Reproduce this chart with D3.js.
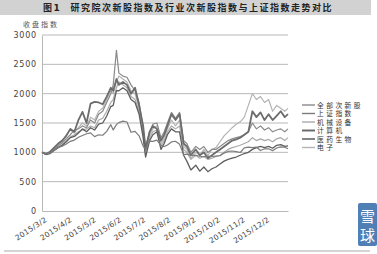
<!DOCTYPE html>
<html>
<head>
<meta charset="utf-8">
<script src="https://cdnjs.cloudflare.com/ajax/libs/d3/7.8.5/d3.min.js"></script>
<style>
  body { margin: 0; background: #fff; }
  text { font-family: "DejaVu Sans", "Noto Sans CJK SC", sans-serif; }
</style>
</head>
<body>
<div id="chart-area"></div>
<script>
const dates = ["2015-03-02","2015-03-07","2015-03-12","2015-03-17","2015-03-22","2015-03-27",
  "2015-04-01","2015-04-06","2015-04-11","2015-04-16","2015-04-21","2015-04-26",
  "2015-05-01","2015-05-06","2015-05-11","2015-05-16","2015-05-21","2015-05-26","2015-05-29",
  "2015-06-02","2015-06-05","2015-06-10","2015-06-15","2015-06-20","2015-06-25","2015-06-30",
  "2015-07-05","2015-07-08","2015-07-13","2015-07-17","2015-07-22","2015-07-27","2015-07-31",
  "2015-08-04","2015-08-09","2015-08-14","2015-08-19","2015-08-24","2015-08-28",
  "2015-09-02","2015-09-08","2015-09-13","2015-09-18","2015-09-23","2015-09-28",
  "2015-10-03","2015-10-08","2015-10-13","2015-10-18","2015-10-23","2015-10-28",
  "2015-11-02","2015-11-07","2015-11-12","2015-11-17","2015-11-22","2015-11-27",
  "2015-12-02","2015-12-07","2015-12-12","2015-12-17","2015-12-22","2015-12-27","2015-12-31"]

const allNew = [1000,970,990,1050,1110,1160, 1230,1300,1380,1400,1450,1420,
  1550,1500,1650,1700,1850,2000,2150, 2740,2350,2300,2280,2150,2050,1850,
  1400,1100,1350,1480,1500,1250,1350, 1500,1680,1580,1680,1200,1150,
  1000,1100,1050,1100,1000,1050, 1050,1100,1150,1200,1230,1250,
  1270,1300,1350,1500,1400,1450, 1380,1420,1350,1380,1400,1350,1400]

const shIndex = [1000,972,986,1034,1084,1106, 1142,1187,1209,1257,1287,1317,
  1331,1268,1299,1291,1358,1472,1382, 1472,1506,1531,1517,1342,1357,1282,
  1105,1051,1190,1186,1207,1117,1098, 1126,1177,1189,1137,962,969,
  949,950,933,928,934,929, 935,942,987,1015,1023,1012,
  997,1076,1089,1080,1088,1030, 1060,1060,1029,1073,1094,1087,1061]

const machinery = [1000,960,985,1040,1090,1130, 1200,1260,1300,1350,1380,1400,
  1450,1420,1550,1580,1700,1850,1900, 2100,2200,2150,2100,1950,1900,1700,
  1300,950,1250,1350,1380,1100,1200, 1350,1450,1400,1450,1050,1000,
  880,950,900,930,880,900, 930,950,1000,1050,1080,1100,
  1120,1150,1180,1250,1200,1230, 1200,1220,1180,1230,1250,1200,1250]

const computer = [1000,975,1010,1080,1150,1200, 1280,1400,1350,1550,1690,1500,
  1830,1860,1850,1820,1950,2100,2050, 2250,2150,2200,2150,2000,2100,1800,
  1450,1050,1350,1450,1400,1200,1300, 1450,1650,1550,1650,1150,1100,
  950,1050,950,1000,900,950, 1000,1050,1100,1150,1200,1220,
  1250,1300,1350,1700,1600,1680, 1550,1650,1550,1620,1700,1600,1650]

const pharma = [1000,965,980,1030,1080,1120, 1180,1250,1270,1330,1400,1350,
  1420,1380,1480,1500,1620,1780,1800, 2050,2050,2100,2050,1900,1850,1650,
  1250,920,1200,1300,1350,1050,1150, 1300,1400,1350,1350,950,850,
  700,780,680,750,670,720, 750,800,850,880,900,920,
  950,980,1000,1050,1080,1100, 1080,1100,1070,1120,1130,1100,1110]

const electronics = [1000,985,1000,1060,1120,1180, 1300,1380,1330,1420,1500,1450,
  1600,1550,1700,1750,1900,2050,2000, 2200,2300,2250,2200,2050,2000,1750,
  1350,1000,1300,1400,1450,1150,1250, 1400,1550,1450,1550,1100,1050,
  900,1000,950,1050,950,1050, 1080,1180,1280,1350,1420,1480,
  1520,1600,1800,2000,1900,1950, 1850,1900,1700,1800,1750,1700,1750]

const seriesNames = ["全部次新股","上证指数","机械设备","计算机","医药生物","电子"]
const seriesValues = [allNew, shIndex, machinery, computer, pharma, electronics]
const yTicks = [0,500,1000,1500,2000,2500,3000]
const xTickLabels = ["2015/3/2","2015/4/2","2015/5/2","2015/6/2","2015/7/2","2015/8/2",
  "2015/9/2","2015/10/2","2015/11/2","2015/12/2"]

const colors = ["#8a8a8a","#7c7c7c","#a9a9a9","#6c6c6c","#5e5e5e","#b4b4b4"]
const widths = [1.2, 1.2, 1.2, 1.8, 1.3, 1.2]

const W = 377, H = 254
const PLOT = { LEFT: 42, RIGHT: 288, TOP: 35, BOTTOM: 211 }

const svg = d3.select("#chart-area").append("svg")
  .attr("width", W)
  .attr("height", H)

// title bar
svg.append("rect")
  .attr("x", 0).attr("y", 0)
  .attr("width", 371).attr("height", 15)
  .attr("fill", "#d2d2d2")

svg.append("text")
  .attr("x", 188)
  .attr("y", 11)
  .attr("text-anchor", "middle")
  .style("font-size", "9px")
  .style("font-weight", "bold")
  .style("letter-spacing", "1.5px")
  .attr("fill", "#222")
  .attr("xml:space", "preserve")
  .text("图1  研究院次新股指数及行业次新股指数与上证指数走势对比")

// y label
svg.append("text")
  .attr("x", 23)
  .attr("y", 27)
  .style("font-size", "7px")
  .style("letter-spacing", "2px")
  .attr("fill", "#555")
  .text("收盘指数")

const parse = d3.timeParse("%Y-%m-%d")
const x = d3.scaleTime()
  .domain([parse(dates[0]), parse(dates[dates.length - 1])])
  .range([PLOT.LEFT, PLOT.RIGHT])

const y = d3.scaleLinear()
  .domain([0, 3000])
  .range([PLOT.BOTTOM, PLOT.TOP])

// grid
svg.append("g")
  .selectAll("line")
  .data(yTicks.filter(d => d > 0))
  .enter().append("line")
  .attr("x1", PLOT.LEFT).attr("x2", PLOT.RIGHT)
  .attr("y1", d => y(d)).attr("y2", d => y(d))
  .attr("stroke", "#b8b8b8")
  .attr("stroke-width", 1)

const yAxisCall = d3.axisLeft(y)
  .tickValues(yTicks)
  .tickSize(0)
  .tickPadding(5)
  .tickFormat(d => d)

const yAxis = svg.append("g")
  .attr("transform", `translate(${PLOT.LEFT}, 0)`)
  .call(yAxisCall)
yAxis.select(".domain").attr("stroke", "#b8b8b8")
yAxis.selectAll("text")
  .style("font-size", "8px")
  .style("font-family", "DejaVu Sans")
  .attr("fill", "#444")
  .style("letter-spacing", "0.8px")

const xTickDates = xTickLabels.map(d => d3.timeParse("%Y/%m/%d")(d))
const xAxisCall = d3.axisBottom(x)
  .tickValues(xTickDates)
  .tickSize(0)
  .tickFormat((d, i) => xTickLabels[i])

const xAxis = svg.append("g")
  .attr("transform", `translate(0, ${PLOT.BOTTOM})`)
  .call(xAxisCall)
xAxis.select(".domain").attr("stroke", "#b8b8b8")
xAxis.selectAll("text")
  .style("font-size", "7.5px")
  .style("letter-spacing", "0.3px")
  .attr("fill", "#444")
  .attr("text-anchor", "end")
  .attr("x", 0)
  .attr("y", 0)
  .attr("dy", 0)
  .attr("transform", "translate(5, 10) rotate(-33)")

// lines
const line = d3.line()
  .x((d, i) => x(parse(dates[i])))
  .y(d => y(d))

const drawOrder = [2, 5, 0, 3, 4, 1]
drawOrder.forEach(k => {
  svg.append("path")
    .datum(seriesValues[k])
    .attr("d", line)
    .attr("fill", "none")
    .attr("stroke", colors[k])
    .attr("stroke-width", widths[k])
    .attr("stroke-linejoin", "round")
})

// legend
const legend = svg.append("g")
  .attr("transform", "translate(302, 105)")

seriesNames.forEach((name, i) => {
  const row = legend.append("g")
    .attr("transform", `translate(0, ${i * 8.5})`)
  row.append("line")
    .attr("x1", 0).attr("x2", 13)
    .attr("y1", 0).attr("y2", 0)
    .attr("stroke", colors[i])
    .attr("stroke-width", widths[i] + 0.2)
  row.append("text")
    .attr("x", 15)
    .attr("y", 2.5)
    .style("font-size", "6.8px")
    .style("letter-spacing", "2.4px")
    .attr("fill", "#333")
    .text(name)
})

// bottom rule
svg.append("line")
  .attr("x1", 4).attr("x2", 370)
  .attr("y1", 251).attr("y2", 251)
  .attr("stroke", "#aaa")

// watermark
svg.append("rect")
  .attr("x", 358).attr("y", 203)
  .attr("width", 19).attr("height", 43)
  .attr("rx", 2)
  .attr("fill", "#4f7fb5")
svg.append("text")
  .attr("x", 367.5).attr("y", 222)
  .attr("text-anchor", "middle")
  .style("font-size", "15px")
  .attr("fill", "#fff")
  .text("雪")
svg.append("text")
  .attr("x", 367.5).attr("y", 241)
  .attr("text-anchor", "middle")
  .style("font-size", "15px")
  .attr("fill", "#fff")
  .text("球")
</script>
</body>
</html>
